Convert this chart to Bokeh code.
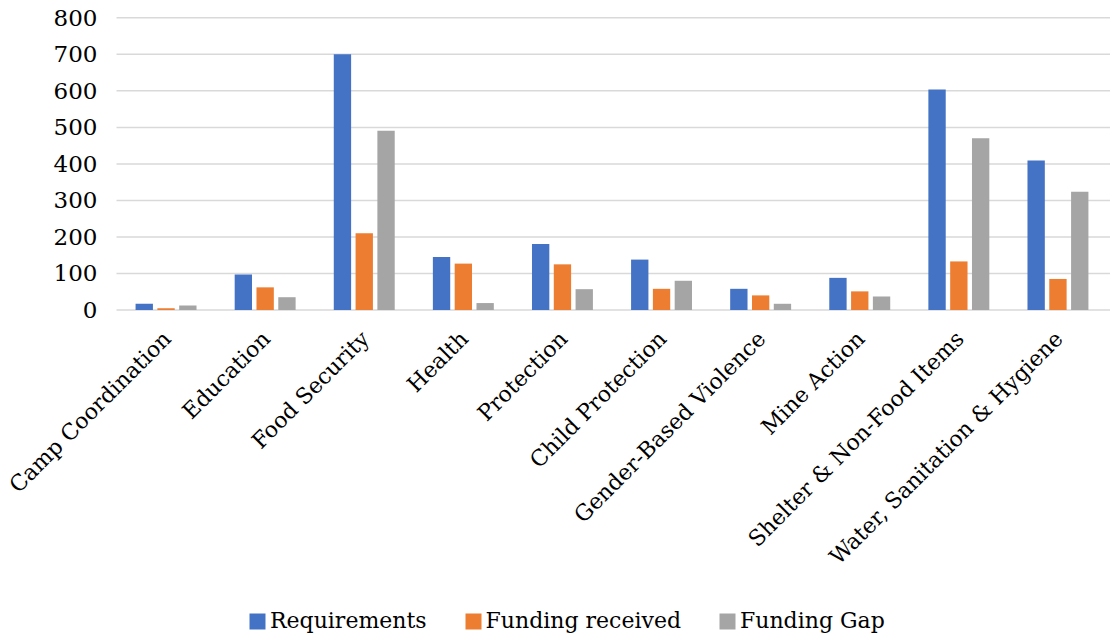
import math
from bokeh.plotting import figure
from bokeh.models import (ColumnDataSource, Range1d, LabelSet, Legend, LegendItem)
from bokeh.transform import dodge
from bokeh.core.properties import value
from bokeh.embed import file_html
from bokeh.resources import INLINE

categories = ["Camp Coordination", "Education", "Food Security", "Health", "Protection",
              "Child Protection", "Gender-Based Violence", "Mine Action",
              "Shelter & Non-Food Items", "Water, Sanitation & Hygiene"]
requirements = [17, 97, 700, 145, 181, 138, 58, 88, 604, 409]
funding_received = [5, 62, 210, 127, 125, 58, 40, 51, 133, 85]
funding_gap = [12, 35, 491, 19, 57, 80, 17, 37, 470, 324]
y_ticks = [0, 100, 200, 300, 400, 500, 600, 700, 800]
y_tick_labels = ["0", "100", "200", "300", "400", "500", "600", "700", "800"]
series_names = ["Requirements", "Funding received", "Funding Gap"]
colors = ["#4472C4", "#ED7D31", "#A5A5A5"]

FONT = "DejaVu Serif"

# ---- layout (pixels) ----
W, H = 1110, 637
PLOT_L, PLOT_R = 116, 1107      # left/right edge of the category band
Y800, Y0 = 17.3, 309.5          # pixel rows of value 800 and value 0

n = len(categories)
cat_px = (PLOT_R - PLOT_L) / n
x_start = -0.5 - PLOT_L / cat_px
x_end = x_start + W / cat_px
px_per_unit = (Y0 - Y800) / y_ticks[-1]
y_end = y_ticks[-1] + Y800 / px_per_unit
y_start = -(H - Y0) / px_per_unit

idx = list(range(n))
source = ColumnDataSource(data=dict(idx=idx, cat=categories, req=requirements,
                                    rec=funding_received, gap=funding_gap,
                                    zero=[0] * n))
grid_src = ColumnDataSource(data=dict(y=y_ticks, lab=y_tick_labels,
                                      x0=[-0.5] * len(y_ticks),
                                      x1=[x_end] * len(y_ticks)))

p = figure(width=W, height=H, x_range=Range1d(x_start, x_end),
           y_range=Range1d(y_start, y_end),
           output_backend="svg", toolbar_location=None,
           min_border_left=0, min_border_right=0, min_border_top=0,
           min_border_bottom=0)
p.outline_line_color = None
p.background_fill_color = "white"
p.border_fill_color = "white"
p.xaxis.visible = False
p.yaxis.visible = False
p.xgrid.visible = False
p.ygrid.visible = False

# horizontal gridlines (value axis)
p.segment(x0="x0", x1="x1", y0="y", y1="y", source=grid_src,
          line_color="#D9D9D9", line_width=1.5)

renderers = []
for key, off, col in zip(["req", "rec", "gap"], [-0.22, 0.0, 0.22], colors):
    r = p.vbar(x=dodge("idx", off), top=key, width=0.175,
               source=source, fill_color=col, line_color=None)
    renderers.append(r)

# value-axis tick labels
ylabels = LabelSet(x="x0", y="y", text="lab", source=grid_src,
                   text_align="right", text_baseline="middle",
                   x_offset=-19, y_offset=0,
                   text_font=value(FONT), text_font_size="23px", text_color="#000000")
p.add_layout(ylabels)

# category labels, rotated 45 degrees
xlabels = LabelSet(x="idx", y="zero", text="cat", source=source, angle=math.pi / 4,
                   text_align="right", text_baseline="middle",
                   x_offset=1, y_offset=-25,
                   text_font=value(FONT), text_font_size="22px", text_color="#000000")
p.add_layout(xlabels)

legend = Legend(items=[LegendItem(label=nm, renderers=[r]) for nm, r in zip(series_names, renderers)],
                orientation="horizontal", location=(247, 4),
                glyph_width=20, glyph_height=20, label_standoff=3, spacing=36,
                padding=0, margin=0, border_line_color=None, background_fill_alpha=0,
                label_text_font=FONT, label_text_font_size="22px", label_text_color="#000000")
p.add_layout(legend, "center")

open("out.html", "w").write(file_html(p, INLINE))
